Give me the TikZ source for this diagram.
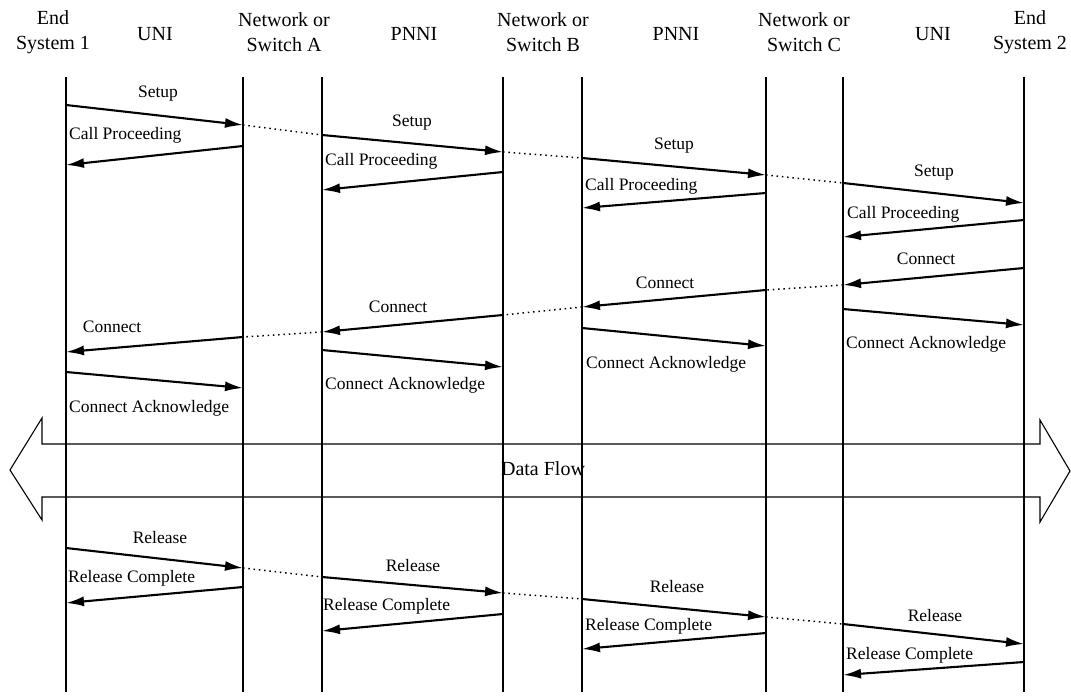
\documentclass[tikz,border=0pt]{standalone}
\usepackage{fontspec}
\setmainfont{Liberation Serif}
\usetikzlibrary{arrows.meta}
\tikzset{
  lane/.style={line width=1.3pt},
  msg/.style={line width=2.1pt,-{Latex[length=18pt,width=10pt]}},
  dots/.style={line width=1.5pt,dash pattern=on 1.5pt off 3.8pt},
  hdr/.style={font=\fontsize{20}{24.5}\selectfont,align=center,inner sep=0pt},
  lbl/.style={font=\fontsize{17.5}{20}\selectfont,inner sep=0pt},
  flow/.style={line width=1.1pt}
}
\begin{document}
\begin{tikzpicture}[x=1pt,y=-1pt]
\useasboundingbox (0,0) rectangle (1071,698);
% headers
\node[hdr] (h1) at (53,32) {End\\System 1};
\node[hdr] (h2) at (155,34) {UNI};
\node[hdr] (h3) at (284,32) {Network or\\Switch A};
\node[hdr] (h4) at (414,34) {PNNI};
\node[hdr] (h5) at (543,32) {Network or\\Switch B};
\node[hdr] (h6) at (676,34) {PNNI};
\node[hdr] (h7) at (804,32) {Network or\\Switch C};
\node[hdr] (h8) at (933,34) {UNI};
\node[hdr] (h9) at (1030,32) {End\\System 2};
% data flow arrow
\draw[flow] (42,444) -- (1040,444) -- (1040,420) -- (1070,471) -- (1040,522) -- (1040,497)
  -- (42,497) -- (42,520) -- (10,470) -- (42,418) -- cycle;
\node[hdr] (df) at (543,469) {Data Flow};
% lanes
\foreach \n/\x in {l1/66,l2/243,l3/322,l4/503,l5/582,l6/766,l7/843,l8/1024} {
  \coordinate (\n t) at (\x,77);
  \coordinate (\n b) at (\x,692);
  \draw[lane] (\n t) -- (\n b);
}
% messages
\foreach \n/\a/\b/\c/\d in {
  m1/66/105/243/125, m2/243/146/66/165,
  m3/322/135/503/152, m4/503/172/322/190,
  m5/582/158/766/175, m6/766/193/582/208,
  m7/843/183/1024/203, m8/1024/220/843/237,
  m9/1024/268/843/285, m10/766/290/582/307,
  m11/503/315/322/332, m12/243/337/66/352,
  m13/843/309/1024/325, m14/582/328/766/346,
  m15/322/350/503/367, m16/66/372/243/388,
  m17/66/548/243/568, m18/243/587/66/603,
  m19/322/577/503/593, m20/503/614/322/631,
  m21/582/599/766/617, m22/766/633/582/649,
  m23/843/624/1024/644, m24/1024/662/843/675} {
  \coordinate (\n s) at (\a,\b);
  \coordinate (\n e) at (\c,\d);
  \draw[msg] (\n s) -- (\n e);
}
% dotted continuations
\draw[dots] (m1e) -- (m3s);
\draw[dots] (m3e) -- (m5s);
\draw[dots] (m5e) -- (m7s);
\draw[dots] (m9e) -- (m10s);
\draw[dots] (m10e) -- (m11s);
\draw[dots] (m11e) -- (m12s);
\draw[dots] (m17e) -- (m19s);
\draw[dots] (m19e) -- (m21s);
\draw[dots] (m21e) -- (m23s);
% labels
\node[lbl] (t1) at (158,94) {Setup};
\node[lbl] (t3) at (412,123) {Setup};
\node[lbl] (t5) at (674,146) {Setup};
\node[lbl] (t7) at (934,173) {Setup};
\node[lbl,anchor=west] (t2) at (69,135) {Call Proceeding};
\node[lbl,anchor=west] (t4) at (325,161) {Call Proceeding};
\node[lbl,anchor=west] (t6) at (585,186) {Call Proceeding};
\node[lbl,anchor=west] (t8) at (847,214) {Call Proceeding};
\node[lbl] (t9) at (926,259) {Connect};
\node[lbl] (t10) at (665,283) {Connect};
\node[lbl] (t11) at (398,307) {Connect};
\node[lbl] (t12) at (112,327) {Connect};
\node[lbl,anchor=west] (t13) at (846,344) {Connect Acknowledge};
\node[lbl,anchor=west] (t14) at (586,364) {Connect Acknowledge};
\node[lbl,anchor=west] (t15) at (325,385) {Connect Acknowledge};
\node[lbl,anchor=west] (t16) at (69,408) {Connect Acknowledge};
\node[lbl] (t17) at (160,538) {Release};
\node[lbl] (t19) at (413,566) {Release};
\node[lbl] (t21) at (677,587) {Release};
\node[lbl] (t23) at (935,616) {Release};
\node[lbl,anchor=west] (t18) at (68,578) {Release Complete};
\node[lbl,anchor=west] (t20) at (323,606) {Release Complete};
\node[lbl,anchor=west] (t22) at (585,626) {Release Complete};
\node[lbl,anchor=west] (t24) at (846,655) {Release Complete};
\end{tikzpicture}
\end{document}
